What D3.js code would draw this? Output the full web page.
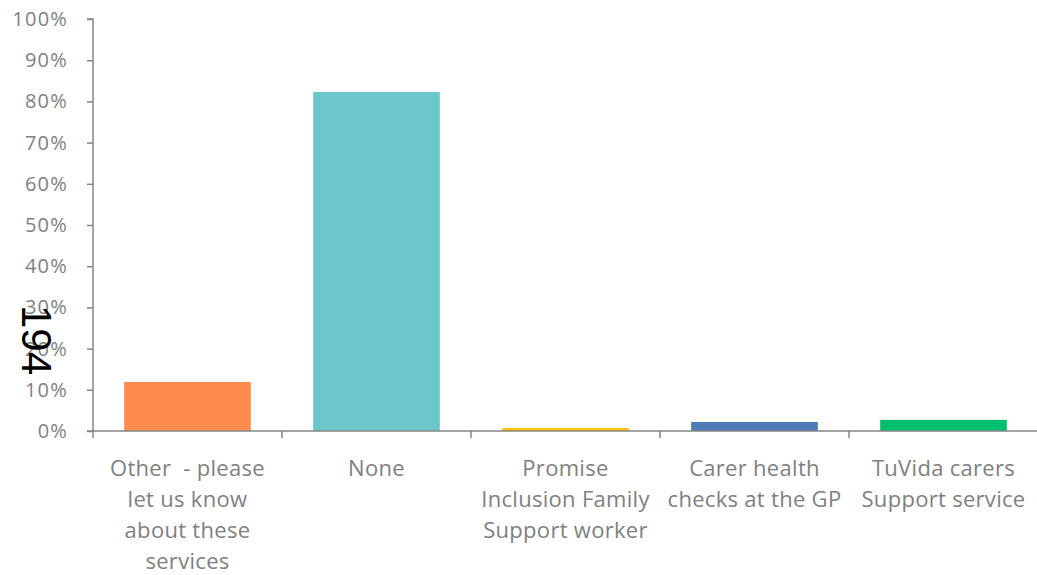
<!DOCTYPE html>
<html><head><meta charset="utf-8">
<script src="https://cdn.jsdelivr.net/npm/d3@7"></script>
<style>
body{margin:0;background:#fff;}
svg{display:block;}
text{font-family:"Open Sans",sans-serif;}
</style></head>
<body>
<svg id="chart" width="1037" height="575"></svg>
<script>
const categories = ["Other", "None", "Promise", "Carer", "TuVida"];
const categoryLabels = [
  ["Other  - please", "let us know", "about these", "services"],
  ["None"],
  ["Promise", "Inclusion Family", "Support worker"],
  ["Carer health", "checks at the GP"],
  ["TuVida carers", "Support service"]
];
const values = [0.119, 0.823, 0.007, 0.022, 0.027];
const colors = ["#FF8C4F", "#6CC7CA", "#FFC000", "#4E7AB5", "#00BF6F"];
const yTicks = [0, 0.1, 0.2, 0.3, 0.4, 0.5, 0.6, 0.7, 0.8, 0.9, 1.0];
const sideNote = "194";

const svg = d3.select("#chart");
const axisColor = "#868686";
const textColor = "#7f7f7f";

const x = d3.scaleBand().domain(categories).range([93, 1038]).paddingInner(0.33).paddingOuter(0.165);
const y = d3.scaleLinear().domain([0, 1]).range([431, 19]);

// bars
svg.append("g").selectAll("rect").data(categories).join("rect")
  .attr("x", d => x(d))
  .attr("width", x.bandwidth())
  .attr("y", (d, i) => y(values[i]))
  .attr("height", (d, i) => y(0) - y(values[i]))
  .attr("fill", (d, i) => colors[i]);

// y axis
const yAxis = svg.append("g").attr("transform", "translate(93,0)")
  .call(d3.axisLeft(y).tickValues(yTicks).tickFormat(d3.format(".0%")).tickSize(6).tickPadding(19));
yAxis.select(".domain").attr("stroke", axisColor).attr("stroke-width", 1.5).attr("d", `M-6,${y(1)}H0V${y(0)}`);
yAxis.selectAll(".tick line").attr("stroke", axisColor).attr("stroke-width", 1.5);
yAxis.selectAll(".tick text").attr("fill", textColor).style("font-size", "20px")
  .style("font-family", "'Open Sans',sans-serif").style("letter-spacing", "1.2px");

// x axis
const xAxis = svg.append("g").attr("transform", `translate(0,${y(0)})`);
xAxis.append("line").attr("x1", 87).attr("x2", 1037).attr("y1", 0).attr("y2", 0)
  .attr("stroke", axisColor).attr("stroke-width", 1.5);
const step = x.step();
const boundaries = categories.map((d, i) => x.range()[0] + i * step);
xAxis.selectAll(".xtick").data(boundaries).join("line")
  .attr("x1", d => d).attr("x2", d => d).attr("y1", 0).attr("y2", 7)
  .attr("stroke", axisColor).attr("stroke-width", 1.5);

const labels = svg.append("g").selectAll("text").data(categories).join("text")
  .attr("text-anchor", "middle")
  .attr("fill", textColor)
  .style("font-size", "22px")
  .style("letter-spacing", "0.3px")
  .attr("x", d => x(d) + x.bandwidth() / 2)
  .attr("y", 476);
labels.each(function(d, i) {
  const t = d3.select(this);
  categoryLabels[i].forEach((line, j) => {
    t.append("tspan").attr("x", x(d) + x.bandwidth() / 2).attr("y", 476 + j * 31)
      .attr("xml:space", "preserve").text(line);
  });
});

// side note
svg.append("text")
  .attr("transform", "translate(22,340) rotate(90)")
  .attr("text-anchor", "middle")
  .style("font-family", "'Liberation Sans',sans-serif")
  .style("font-size", "42px")
  .attr("fill", "#000")
  .text(sideNote);
</script>
</body></html>
